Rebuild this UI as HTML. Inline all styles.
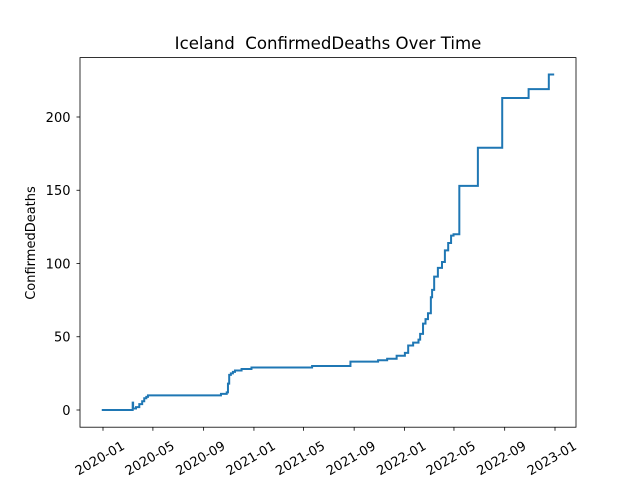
<!DOCTYPE html>
<html><head><meta charset="utf-8"><style>
body{margin:0;background:#fff;}
svg text{font-family:"DejaVu Sans","Liberation Sans",sans-serif;fill:#000;}
</style></head><body>
<svg id="chart" width="640" height="480" viewBox="0 0 640 480" xmlns="http://www.w3.org/2000/svg">
<rect width="640" height="480" fill="#fff"/>
<text x="328" y="49" font-size="16.6" text-anchor="middle">Iceland &#160;ConfirmedDeaths Over Time</text>
<text transform="translate(35,243) rotate(-90)" font-size="13" text-anchor="middle">ConfirmedDeaths</text>
<g id="ticks"></g>
<path id="line" fill="none" stroke="#1f77b4" stroke-width="2" stroke-linejoin="miter"/>
<rect x="80" y="57.6" width="496" height="369.6" fill="none" stroke="#000" stroke-width="0.8"/>
</svg>
<script>
const dates=["2019-12-29","2020-03-13","2020-03-14","2020-03-21","2020-03-29","2020-04-05","2020-04-10","2020-04-15","2020-04-19",
"2020-10-13","2020-10-27","2020-10-30","2020-11-02","2020-11-06","2020-11-11","2020-11-16","2020-12-02","2020-12-26",
"2021-05-22","2021-08-23","2021-10-29","2021-11-20","2021-12-13","2022-01-02","2022-01-10","2022-01-22","2022-02-04","2022-02-08",
"2022-02-15","2022-02-21","2022-02-27","2022-03-06","2022-03-09","2022-03-14","2022-03-23","2022-04-02","2022-04-09","2022-04-17",
"2022-04-24","2022-04-30","2022-05-14","2022-06-28","2022-08-26","2022-10-29","2022-12-17","2022-12-30"];
const deaths=[0,5,1,2,4,6,8,9,10,
11,12,18,24,25,26,27,28,29,
30,33,34,35,37,39,44,46,48,52,
59,62,66,77,82,91,97,101,109,114,
119,120,153,179,213,219,229,229];
const xTickLabels=["2020-01","2020-05","2020-09","2021-01","2021-05","2021-09","2022-01","2022-05","2022-09","2023-01"];
const yTickValues=[0,50,100,150,200];

const t0=Date.UTC(2020,0,1), t1=Date.UTC(2023,0,1);
function toT(s){const p=s.split("-");return Date.UTC(+p[0],+p[1]-1,+(p[2]||1));}
function xs(t){return 103+(t-t0)/(t1-t0)*452;}
function ys(v){return 410-v*1.465;}
const NS="http://www.w3.org/2000/svg";
const g=document.getElementById("ticks");
function mk(tag,attrs){const e=document.createElementNS(NS,tag);for(const k in attrs)e.setAttribute(k,attrs[k]);return e;}
xTickLabels.forEach(l=>{
  const x=xs(toT(l));
  const tk=mk("line",{x1:x,x2:x,y1:427.2,y2:430.7,stroke:"#000","stroke-width":0.8});
  
  
  g.appendChild(tk);
  const tx=mk("text",{"font-size":13,"text-anchor":"middle",transform:`translate(${x-1},${462}) rotate(-30)`});
  tx.textContent=l;
  
  
  g.appendChild(tx);
});
yTickValues.forEach(v=>{
  const y=ys(v);
  const tk=mk("line",{x1:76.5,x2:80,y1:y,y2:y,stroke:"#000","stroke-width":0.8});
  
  
  g.appendChild(tk);
  const tx=mk("text",{x:70.5,y:y+4.8,"font-size":13,"text-anchor":"end"});
  tx.textContent=v;
  
  
  g.appendChild(tx);
});
let d="";
dates.forEach((s,i)=>{
  const x=xs(toT(s)), y=ys(deaths[i]);
  if(i===0) d+=`M${x},${y}`;
  else d+=`H${x}V${y}`;
});
document.getElementById("line").setAttribute("d",d);
</script>
</body></html>
